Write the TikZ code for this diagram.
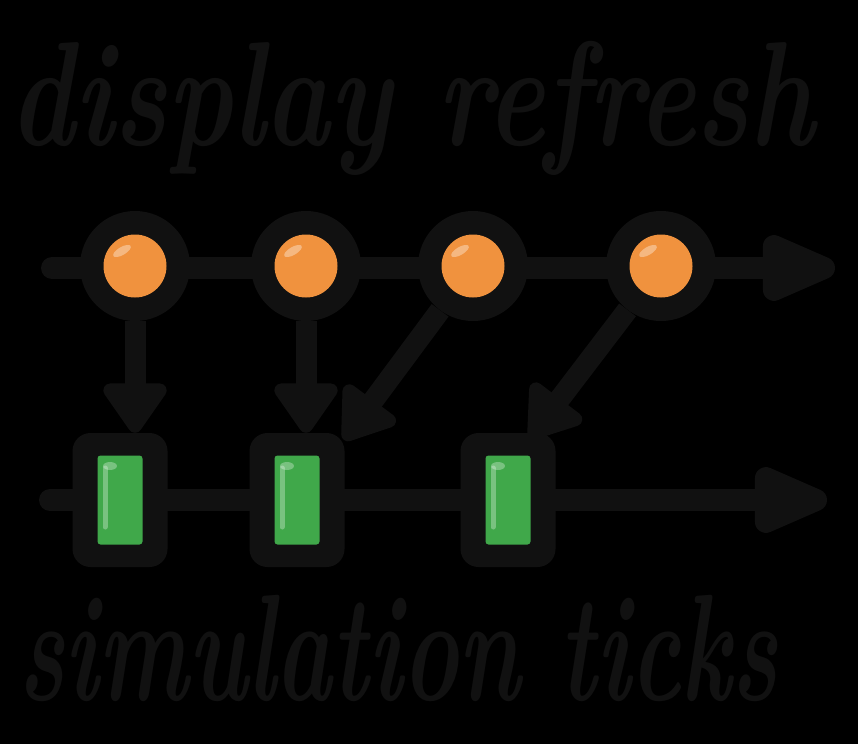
\documentclass[tikz,border=0pt]{standalone}
\usepackage{tikz}
\usetikzlibrary{arrows.meta,positioning}
\definecolor{inkdark}{RGB}{17,17,17}
\definecolor{tickorange}{RGB}{240,146,62}
\definecolor{tickgreen}{RGB}{64,168,74}
\tikzset{
  frame/.style={circle,fill=inkdark,minimum size=110pt,inner sep=0pt},
  dot/.style={circle,fill=tickorange,minimum size=63pt,inner sep=0pt},
  tickbox/.style={rectangle,rounded corners=18pt,fill=inkdark,minimum width=95pt,minimum height=134pt,inner sep=0pt},
  bar/.style={rectangle,rounded corners=3pt,fill=tickgreen,minimum width=45pt,minimum height=89pt,inner sep=0pt},
  track/.style={draw=inkdark,line width=22pt,line cap=round,-{Triangle[length=92pt,width=70pt,round]}},
  feed/.style={draw=inkdark,line width=21pt,-{Triangle[length=55pt,width=72pt,round]}},
  handtext/.style={text=inkdark,anchor=base,inner sep=0pt,font=\fontsize{110}{110}\selectfont\bfseries\itshape}
}

\begin{document}
\begin{tikzpicture}[x=1pt,y=-1pt]
\useasboundingbox (0,0) rectangle (858,744);
\fill[black] (0,0) rectangle (858,744);

% time lines
\coordinate (ta) at (52,268);
\coordinate (tb) at (835,268);
\coordinate (ba) at (50,500);
\coordinate (bb) at (827,500);
\draw[track] (ta) -- (tb);
\draw[track] (ba) -- (bb);

% refresh frames
\node[frame] (r1) at (135,266) {};
\node[frame] (r2) at (306,266) {};
\node[frame] (r3) at (473,266) {};
\node[frame] (r4) at (661,266) {};
\foreach \i in {1,...,4}{
  \node[dot] (d\i) at (r\i) {};
  \fill[white,opacity=.35] ([xshift=-13pt,yshift=15pt]d\i.center) ellipse [x radius=10pt,y radius=4pt,rotate=30];
}

% simulation ticks
\node[tickbox] (s1) at (120,500) {};
\node[tickbox] (s2) at (297,500) {};
\node[tickbox] (s3) at (508,500) {};
\foreach \i in {1,2,3}{
  \node[bar] (g\i) at (s\i) {};
  \draw[white,opacity=.3,line width=5pt,line cap=round] ([xshift=-15pt,yshift=-27pt]g\i.center) -- ([xshift=-15pt,yshift=32pt]g\i.center);
  \fill[white,opacity=.3] ([xshift=-10pt,yshift=34pt]g\i.center) ellipse [x radius=7pt,y radius=4pt];
}

% which frame shows which tick
\coordinate (h3) at (344,440);
\coordinate (h4) at (530,438);
\draw[feed] (r1.south) -- (r1.south |- s1.north);
\draw[feed] (r2.south) -- (r2.south |- s2.north);
\draw[feed] (r3) -- (h3);
\draw[feed] (r4) -- (h4);

% captions
\node[handtext] (cap1) at (412,145) {\scalebox{1}[1.35]{display refresh}};
\node[handtext] (cap2) at (398,700) {\scalebox{0.865}[1.38]{simulation ticks}};
\end{tikzpicture}
\end{document}
